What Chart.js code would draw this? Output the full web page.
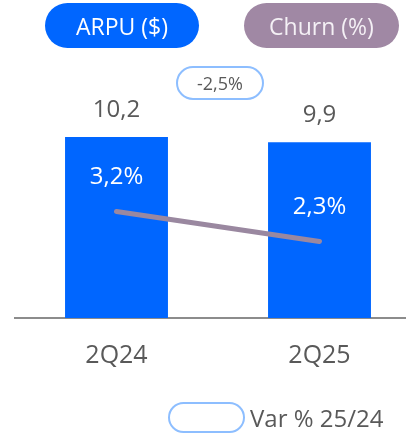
<!DOCTYPE html>
<html>
<head>
<meta charset="utf-8">
<script src="https://cdn.jsdelivr.net/npm/chart.js@4"></script>
<style>
  html, body { margin: 0; padding: 0; background: #fff; overflow: hidden; }
  body { width: 406px; height: 435px; position: relative; font-family: "Open Sans", sans-serif; }
  #wrap { position: absolute; left: 0; top: 0; width: 421px; height: 435px; }
  .pill { position: absolute; box-sizing: border-box; border-radius: 24px; display: flex;
          align-items: center; justify-content: center; font-size: 23px; color: #fff; }
  #pArpu { left: 45px; top: 3px; width: 154px; height: 45px; background: #0066FF; }
  #pChurn { left: 244px; top: 3px; width: 155px; height: 45px; background: #A088A4; color: #F4F0F5; }
  #pVar { left: 176px; top: 66px; width: 88px; height: 34px; background: #fff; border: 2.5px solid #8DBEFF;
          color: #595959; font-size: 18px; }
  #pLeg { left: 168px; top: 402px; width: 77px; height: 31px; background: #fff; border: 2.5px solid #8DBEFF; }
  #legTxt { position: absolute; left: 250px; top: 401px; font-size: 24px; color: #595959; white-space: nowrap; }
</style>
</head>
<body>
<div id="wrap"><canvas id="graphique"></canvas></div>
<div class="pill" id="pArpu">ARPU ($)</div>
<div class="pill" id="pChurn">Churn (%)</div>
<div class="pill" id="pVar">-2,5%</div>
<div class="pill" id="pLeg"></div>
<div id="legTxt">Var % 25/24</div>
<script>
// Données
const categories = ['2Q24', '2Q25'];
const arpu = [10.2, 9.9];
const churn = [3.2, 2.3];

const couleurTexte = '#595959';
const fmt = v => v.toFixed(1).replace('.', ',');

// Étiquettes de valeurs (pas de plugin datalabels disponible)
const etiquettes = {
    id: 'etiquettes',
    afterDatasetsDraw(chart) {
        const ctx = chart.ctx;
        ctx.save();
        ctx.textAlign = 'center';
        ctx.textBaseline = 'middle';
        ctx.font = '24px "Open Sans", sans-serif';
        chart.getDatasetMeta(0).data.forEach((bar, i) => {
            ctx.fillStyle = couleurTexte;
            ctx.fillText(fmt(arpu[i]), bar.x, bar.y - 27);
        });
        chart.getDatasetMeta(1).data.forEach((pt, i) => {
            ctx.fillStyle = '#FFFFFF';
            ctx.fillText(fmt(churn[i]) + '%', pt.x, pt.y - 34);
        });
        ctx.restore();
    }
};

new Chart(document.getElementById('graphique'), {
    data: {
        labels: categories,
        datasets: [
            {
                type: 'bar',
                label: 'ARPU ($)',
                data: arpu,
                backgroundColor: '#0066FF',
                barPercentage: 0.507,
                categoryPercentage: 1,
                yAxisID: 'y',
                order: 2
            },
            {
                type: 'line',
                label: 'Churn (%)',
                data: churn,
                borderColor: '#9A88A0',
                borderWidth: 5,
                borderCapStyle: 'round',
                pointRadius: 0,
                yAxisID: 'y2',
                order: 1
            }
        ]
    },
    options: {
        responsive: true,
        maintainAspectRatio: false,
        animation: false,
        layout: { padding: { left: 15, right: 0, top: 60, bottom: 57 } },
        plugins: { legend: { display: false }, tooltip: { enabled: false } },
        scales: {
            x: {
                grid: { display: false, drawTicks: false },
                border: { display: true, color: '#8C8C8C', width: 2 },
                ticks: { color: couleurTexte, font: { family: 'Open Sans', size: 25 }, padding: 23 },
                afterFit: s => { s.height = 60; }
            },
            y: { display: false, min: 0, max: 14.53 },
            y2: { display: false, min: 0, max: 7.75, position: 'right' }
        }
    },
    plugins: [etiquettes]
});
</script>
</body>
</html>
